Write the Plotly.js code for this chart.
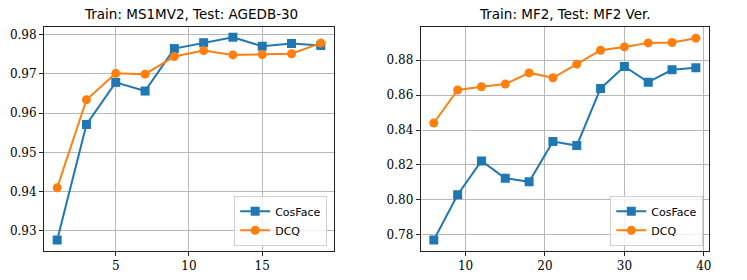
<!DOCTYPE html>
<html>
<head>
<meta charset="utf-8">
<script src="https://cdn.plot.ly/plotly-3.0.1.min.js"></script>
<style>html,body{margin:0;padding:0;background:#fff;}#chart{width:747px;height:280px;}</style>
</head>
<body>
<div id="chart"></div>
<script>
// Left panel: Train MS1MV2, Test AGEDB-30
const leftX = [1, 3, 5, 7, 9, 11, 13, 15, 17, 19];
const leftCosFace = [0.9277, 0.9571, 0.9678, 0.9656, 0.9764, 0.9779, 0.9793, 0.9770, 0.9777, 0.9772];
const leftDCQ = [0.9410, 0.9634, 0.9701, 0.9699, 0.9744, 0.9759, 0.9748, 0.9749, 0.9751, 0.9778];
const leftXTicks = [5, 10, 15];
const leftYTicks = [0.93, 0.94, 0.95, 0.96, 0.97, 0.98];

// Right panel: Train MF2, Test MF2 Ver.
const rightX = [6, 9, 12, 15, 18, 21, 24, 27, 30, 33, 36, 39];
const rightCosFace = [0.7770, 0.8029, 0.8223, 0.8124, 0.8103, 0.8334, 0.8311, 0.8638, 0.8764, 0.8674, 0.8745, 0.8757];
const rightDCQ = [0.8440, 0.8629, 0.8648, 0.8663, 0.8727, 0.8699, 0.8777, 0.8857, 0.8876, 0.8899, 0.8901, 0.8926];
const rightXTicks = [10, 20, 30, 40];
const rightYTicks = [0.78, 0.80, 0.82, 0.84, 0.86, 0.88];

const titles = ['Train: MS1MV2, Test: AGEDB-30', 'Train: MF2, Test: MF2 Ver.'];
const seriesNames = ['CosFace', 'DCQ'];

const blue = '#1f77b4', orange = '#ff7f0e';
const tickFont = {family: 'DejaVu Serif', size: 12, color: '#000'};

function tr(x, y, name, color, symbol, xa, ya, leg) {
  return {
    x: x, y: y, name: name, type: 'scatter', mode: 'lines+markers',
    xaxis: xa, yaxis: ya, legend: leg,
    line: {color: color, width: 2},
    marker: {color: color, symbol: symbol, size: 9, line: {width: 0}}
  };
}

const data = [
  tr(leftX, leftCosFace, seriesNames[0], blue, 'square', 'x', 'y', 'legend'),
  tr(leftX, leftDCQ, seriesNames[1], orange, 'circle', 'x', 'y', 'legend'),
  tr(rightX, rightCosFace, seriesNames[0], blue, 'square', 'x2', 'y2', 'legend2'),
  tr(rightX, rightDCQ, seriesNames[1], orange, 'circle', 'x2', 'y2', 'legend2')
];

function axis(domain, range, ticks, anchor, fmt) {
  return {
    domain: domain, range: range, anchor: anchor,
    tickmode: 'array', tickvals: ticks,
    ticktext: ticks.map(v => fmt ? v.toFixed(fmt) : String(v)),
    showline: true, mirror: true, linecolor: '#222', linewidth: 1,
    ticks: 'outside', ticklen: 4, tickwidth: 1, tickcolor: '#222',
    showgrid: true, gridcolor: '#b8b8b8', gridwidth: 1,
    zeroline: false, tickfont: tickFont
  };
}

const yDom = [0.1036, 0.9036];
const legendStyle = {
  bgcolor: 'rgba(255,255,255,0.8)', bordercolor: '#d0d0d0', borderwidth: 1,
  font: {family: 'DejaVu Sans', size: 11, color: '#000'},
  xanchor: 'right', yanchor: 'bottom', xref: 'paper', yref: 'paper',
  tracegroupgap: 0, itemwidth: 30
};

const titleFont = {family: 'DejaVu Sans', size: 13.5, color: '#000'};

const layout = {
  width: 747, height: 280,
  margin: {l: 0, r: 0, t: 0, b: 0},
  paper_bgcolor: '#fff', plot_bgcolor: '#fff',
  showlegend: true,
  xaxis: axis([0.0589, 0.4471], [0.1, 19.9], leftXTicks, 'y', 0),
  yaxis: axis(yDom, [0.9249, 0.9819], leftYTicks, 'x', 2),
  xaxis2: axis([0.5632, 0.9491], [4.35, 40.65], rightXTicks, 'y2', 0),
  yaxis2: axis(yDom, [0.7707, 0.8990], rightYTicks, 'x2', 2),
  legend: Object.assign({}, legendStyle, {x: 0.438, y: 0.122}),
  legend2: Object.assign({}, legendStyle, {x: 0.9415, y: 0.122}),
  annotations: [
    {text: titles[0], xref: 'paper', yref: 'paper', x: 0.2555, y: 0.915, xanchor: 'center', yanchor: 'bottom', showarrow: false, font: titleFont},
    {text: titles[1], xref: 'paper', yref: 'paper', x: 0.756, y: 0.915, xanchor: 'center', yanchor: 'bottom', showarrow: false, font: titleFont}
  ]
};

Plotly.newPlot('chart', data, layout, {displayModeBar: false, staticPlot: true});
</script>
</body>
</html>
